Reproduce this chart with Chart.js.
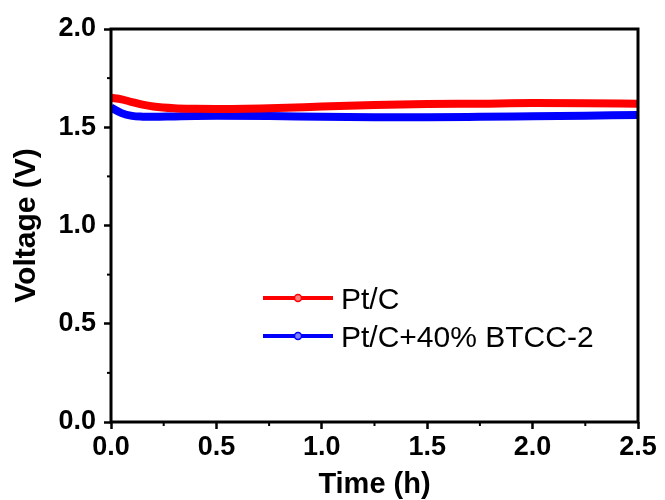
<!DOCTYPE html>
<html>
<head>
<meta charset="utf-8">
<script src="https://cdn.jsdelivr.net/npm/chart.js@4/dist/chart.umd.min.js"></script>
<style>
html,body{margin:0;padding:0;background:#fff;}
#wrap{width:665px;height:500px;position:relative;}
</style>
</head>
<body>
<div id="wrap"><canvas id="c" width="665" height="500"></canvas></div>
<script>
// ---- data ----
const seriesNames = ["Pt/C", "Pt/C+40% BTCC-2"];
const timeH = [0, 0.05, 0.1, 0.15, 0.2, 0.3, 0.4, 0.5, 0.75, 1.0, 1.25, 1.5, 1.75, 2.0, 2.25, 2.5];
const ptcVoltage = [1.650, 1.642, 1.628, 1.615, 1.606, 1.597, 1.594, 1.593, 1.597, 1.605, 1.613, 1.618, 1.620, 1.623, 1.622, 1.620];
const btccVoltage = [1.600, 1.572, 1.558, 1.554, 1.553, 1.555, 1.557, 1.558, 1.557, 1.553, 1.551, 1.551, 1.553, 1.556, 1.559, 1.562];
const xTicks = [0, 0.5, 1.0, 1.5, 2.0, 2.5];
const yTicks = [0, 0.5, 1.0, 1.5, 2.0];
const xTitle = "Time (h)";
const yTitle = "Voltage (V)";

const FONT = "'Liberation Sans', Arial, sans-serif";

function pts(xs, ys){ return xs.map((x,i)=>({x:x, y:ys[i]})); }

const frame = {
  id: 'frame',
  afterDraw(chart){
    const {ctx, chartArea:a, scales} = chart;
    ctx.save();
    ctx.strokeStyle = '#000';
    ctx.lineWidth = 3;
    ctx.strokeRect(a.left, a.top, a.right - a.left, a.bottom - a.top);
    // minor ticks
    ctx.lineWidth = 2;
    for (let i = 0; i < xTicks.length - 1; i++) {
      const v = (xTicks[i] + xTicks[i+1]) / 2;
      const px = scales.x.getPixelForValue(v);
      ctx.beginPath(); ctx.moveTo(px, a.bottom); ctx.lineTo(px, a.bottom + 4); ctx.stroke();
    }
    for (let i = 0; i < yTicks.length - 1; i++) {
      const v = (yTicks[i] + yTicks[i+1]) / 2;
      const py = scales.y.getPixelForValue(v);
      ctx.beginPath(); ctx.moveTo(a.left, py); ctx.lineTo(a.left - 4, py); ctx.stroke();
    }
    // legend
    const colors = ['#ff0000', '#0000ff'];
    const fills = ['#ff8080', '#8080ff'];
    const lx = a.left + 152, ly = a.top + 269, dy = 38;
    ctx.font = "30px " + FONT;
    ctx.textBaseline = 'alphabetic';
    ctx.textAlign = 'left';
    seriesNames.forEach((name, i) => {
      const y = ly + i * dy;
      ctx.strokeStyle = colors[i];
      ctx.lineWidth = 4;
      ctx.beginPath(); ctx.moveTo(lx, y); ctx.lineTo(lx + 70, y); ctx.stroke();
      ctx.beginPath(); ctx.arc(lx + 35, y, 3.5, 0, Math.PI*2);
      ctx.fillStyle = fills[i]; ctx.fill();
      ctx.lineWidth = 1.5; ctx.stroke();
      ctx.fillStyle = '#000';
      ctx.fillText(name, lx + 78, y + 10.5);
    });
    ctx.restore();
  }
};

new Chart(document.getElementById('c'), {
  type: 'line',
  data: {
    datasets: [
      { label: seriesNames[0], data: pts(timeH, ptcVoltage), borderColor: '#ff0000', borderWidth: 8, pointRadius: 0, tension: 0.4, cubicInterpolationMode: 'monotone' },
      { label: seriesNames[1], data: pts(timeH, btccVoltage), borderColor: '#0000ff', borderWidth: 8, pointRadius: 0, tension: 0.4, cubicInterpolationMode: 'monotone' }
    ]
  },
  options: {
    responsive: false,
    animation: false,
    layout: { padding: { top: 29, right: 27, left: 0, bottom: 0 } },
    plugins: { legend: { display: false }, tooltip: { enabled: false } },
    scales: {
      x: {
        type: 'linear', min: 0, max: 2.5,
        afterBuildTicks(s){ s.ticks = xTicks.map(v => ({value: v})); },
        afterFit(s){ s.height = 78; },
        ticks: { color: '#000', font: { family: FONT, size: 27, weight: 'bold' }, padding: 2, maxRotation: 0,
                 callback: v => v.toFixed(1) },
        grid: { drawOnChartArea: false, color: '#000', tickLength: 7, tickWidth: 2.5 },
        border: { display: false },
        title: { display: true, text: xTitle, color: '#000', font: { family: FONT, size: 29, weight: 'bold', lineHeight: 1.0 }, padding: { top: 0, bottom: 1 } }
      },
      y: {
        type: 'linear', min: 0, max: 2.0,
        afterBuildTicks(s){ s.ticks = yTicks.map(v => ({value: v})); },
        afterFit(s){ s.width = 111; },
        ticks: { color: '#000', font: { family: FONT, size: 27, weight: 'bold' }, padding: 8,
                 callback: v => v.toFixed(1) },
        grid: { drawOnChartArea: false, color: '#000', tickLength: 7, tickWidth: 2.5 },
        border: { display: false },
        title: { display: true, text: yTitle, color: '#000', font: { family: FONT, size: 30, weight: 'bold', lineHeight: 1.0 }, padding: { top: 12, bottom: 0 } }
      }
    }
  },
  plugins: [frame]
});
</script>
</body>
</html>
